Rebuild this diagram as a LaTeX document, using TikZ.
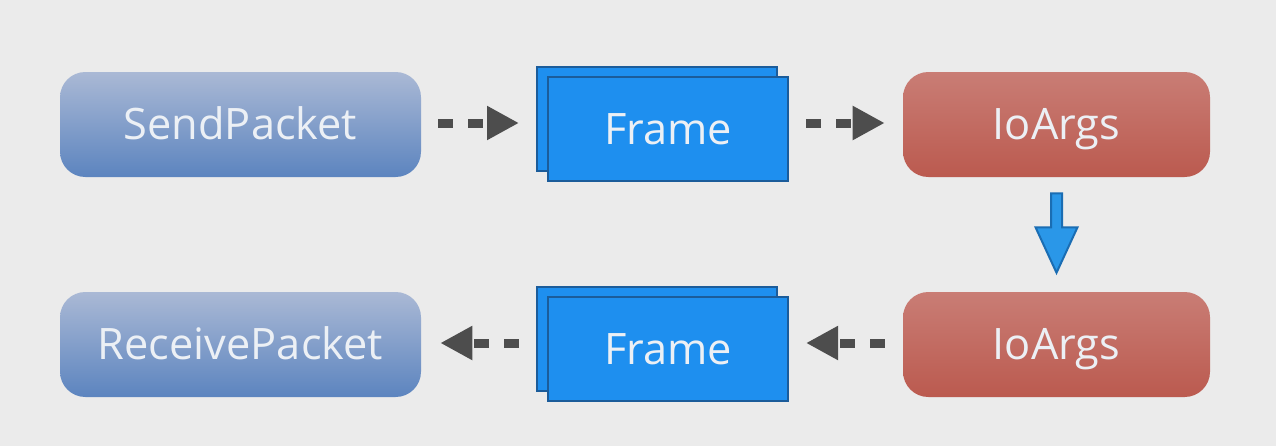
\documentclass[tikz,border=0pt]{standalone}
\usepackage{fontspec}
\setmainfont{Open Sans}
\usetikzlibrary{arrows.meta,shadows,calc}
\definecolor{bg}{HTML}{EBEBEB}
\definecolor{bluetop}{HTML}{AAB9D5}
\definecolor{bluebot}{HTML}{5C84BF}
\definecolor{redtop}{HTML}{C97D75}
\definecolor{redbot}{HTML}{BB5A4F}
\definecolor{framefill}{HTML}{1E8FEF}
\definecolor{frameline}{HTML}{1B5C9A}
\definecolor{arrowgray}{HTML}{4D4D4D}
\definecolor{txt}{HTML}{ECF0F5}
\definecolor{downfill}{HTML}{2A97E8}
\definecolor{downline}{HTML}{1A6DB3}
\begin{document}
\begin{tikzpicture}[x=0.75pt,y=-0.75pt,
  lbl/.style={font=\fontsize{32.5}{36}\selectfont, text=txt, text height=23.2pt, text depth=-1pt},
  pill/.style={lbl, rounded corners=19pt, minimum height=105*0.75pt, inner sep=0pt},
  bluepill/.style={pill, top color=bluetop, bottom color=bluebot, minimum width=361*0.75pt},
  redpill/.style={pill, top color=redtop, bottom color=redbot, minimum width=307*0.75pt},
  framebox/.style={lbl, fill=framefill, draw=frameline, line width=1.5pt,
    minimum width=240*0.75pt, minimum height=104*0.75pt, inner sep=0pt,
    copy shadow={shadow xshift=-8.25pt, shadow yshift=7.5pt}},
  dasharrow/.style={draw=arrowgray, line width=6.75pt, dash pattern=on 11.25pt off 11.25pt,
    -{Triangle[length=24pt, width=24pt]}}
]
\fill[bg] (0,0) rectangle (1276,446);
\useasboundingbox (0,0) rectangle (1276,446);

\node[bluepill] (send) at (240.5,124.5) {SendPacket};
\node[framebox] (f1) at (668,129) {Frame};
\node[redpill] (io1) at (1056.5,124.5) {IoArgs};

\node[bluepill] (recv) at (240.5,344.5) {ReceivePacket};
\node[framebox] (f2) at (668,349) {Frame};
\node[redpill] (io2) at (1056.5,344.5) {IoArgs};

\draw[dasharrow, shorten <=12.75pt, shorten >=21pt] (send.east |- 0,123) -- (f1.west |- 0,123);
\draw[dasharrow, shorten <=12.75pt, shorten >=13.5pt] (f1.east |- 0,123) -- (io1.west |- 0,123);

\draw[dasharrow, shorten <=21pt, shorten >=14.25pt] (f2.west |- 0,343) -- (recv.east |- 0,343);
\draw[dasharrow, shorten <=13.5pt, shorten >=12.75pt] (io2.west |- 0,343) -- (f2.east |- 0,343);

\draw[fill=downfill, draw=downline, line width=1.5pt]
  ($(io1.south)+(-5.5,16)$) -- ($(io1.south)+(5.5,16)$) -- ($(io1.south)+(5.5,50)$)
  -- ($(io1.south)+(21,50)$) -- ($(io2.north)+(0,-19)$) -- ($(io1.south)+(-21,50)$)
  -- ($(io1.south)+(-5.5,50)$) -- cycle;
\end{tikzpicture}
\end{document}
